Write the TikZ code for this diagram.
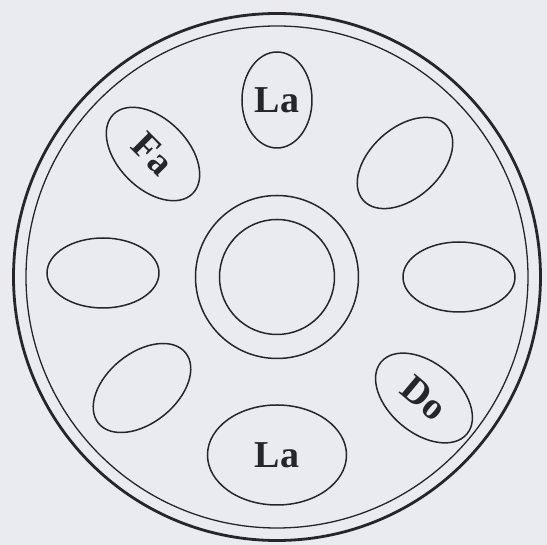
\documentclass[tikz,border=0pt]{standalone}
\usepackage{fontspec}
\setmainfont{Liberation Serif}
\usetikzlibrary{shapes.geometric}
\definecolor{paper}{RGB}{233,235,241}
\definecolor{ink}{RGB}{38,38,42}

\begin{document}
\begin{tikzpicture}[
    x=1pt, y=1pt,
    font=\bfseries\fontsize{38}{40}\selectfont,
    rim/.style={circle, draw=ink, inner sep=0pt},
    pad/.style={ellipse, draw=ink, line width=1.5pt, inner sep=0pt, text=ink,
                minimum width=112pt, minimum height=70pt},
    note/.style={pad, minimum width=70pt, minimum height=96pt},
    bass/.style={pad, minimum width=139pt, minimum height=100pt}
]

% =========================================================
% Paper and frame
% =========================================================
\fill[paper] (-277,-268) rectangle (270,277);
\useasboundingbox (-277,-268) rectangle (270,277);

\node[rim, line width=2.8pt, minimum size=527pt] (shell) at (0,0) {};
\node[rim, line width=1.3pt, minimum size=502pt] (shellin) at (0,0) {};

% =========================================================
% Centre dome
% =========================================================
\node[rim, line width=1.5pt, minimum size=163pt] (ding) at (0,0) {};
\node[rim, line width=1.5pt, minimum size=115pt] (dingin) at (0,0) {};

% =========================================================
% Tone fields
% =========================================================
\node[note]             (ptop)   at (0,177)     {La};
\node[pad, rotate=42]   (pur)    at (128,114)   {};
\node[pad]              (pright) at (182,0)     {};
\node[pad, rotate=-40]  (pdo)    at (147,-121)  {Do};
\node[bass]             (pbot)   at (0,-178)    {La};
\node[pad, rotate=39]   (pll)    at (-135,-111) {};
\node[pad]              (pleft)  at (-174,4)    {};
\node[pad, rotate=-45]  (pfa)    at (-124,123)  {Fa};

\end{tikzpicture}
\end{document}
